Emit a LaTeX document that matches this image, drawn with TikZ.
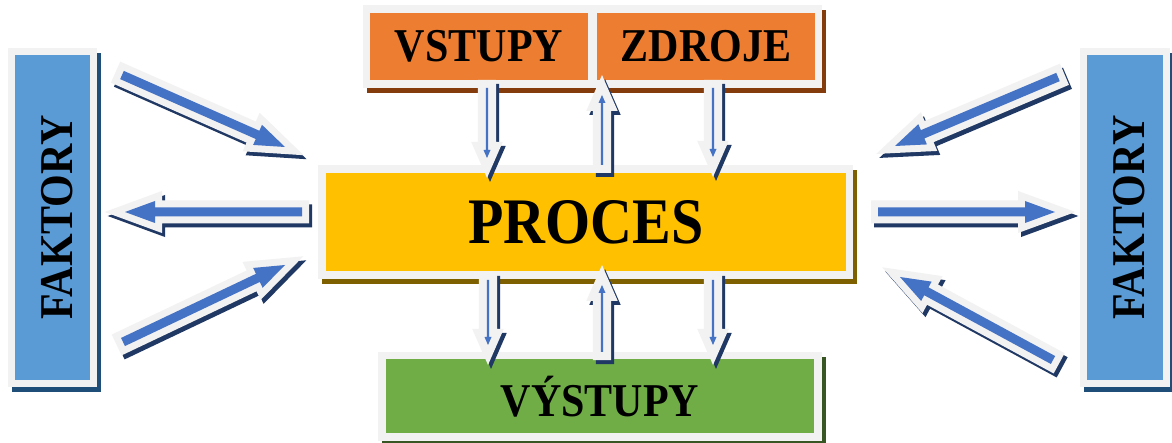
\documentclass[tikz,border=0pt]{standalone}
\usepackage{fontspec}
\setmainfont{Liberation Serif}
\usepackage{graphicx}
\usetikzlibrary{calc}
\definecolor{rim}{HTML}{F2F2F2}
\definecolor{blu}{HTML}{5B9BD5}
\definecolor{bludk}{HTML}{1F4E79}
\definecolor{orn}{HTML}{ED7D31}
\definecolor{orndk}{HTML}{843C0C}
\definecolor{ylw}{HTML}{FFC000}
\definecolor{ylwdk}{HTML}{7F6000}
\definecolor{grn}{HTML}{70AD47}
\definecolor{grndk}{HTML}{375623}
\definecolor{arrblue}{HTML}{4472C4}
\definecolor{arrdark}{HTML}{1F3864}

% slightly taller letters
\newcommand{\tall}[1]{\scalebox{1}[1.12]{#1}}
% [rim width]{from}{to}{shaft half width}{head half width}{head length}
\newcommand{\blockarrow}[6][14pt]{%
  \coordinate (hb) at ($(#3)!#6!(#2)$);
  \path[flow=#1] ($(#2)!#4!90:(#3)$) -- ($(hb)!#4!90:(#3)$) -- ($(hb)!#5!90:(#3)$) -- (#3)
    -- ($(hb)!#5!-90:(#3)$) -- ($(hb)!#4!-90:(#3)$) -- ($(#2)!#4!-90:(#3)$) -- cycle;}

\begin{document}
\begin{tikzpicture}[x=1pt, y=-1pt,
  box/.style={fill=#1, draw=rim, line width=7.5pt, inner sep=0pt,
              font=\bfseries\fontsize{42pt}{44pt}\selectfont,
              preaction={fill=#1dk, draw=#1dk, line width=7.5pt,
                         transform canvas={shift={(4pt,-5pt)}}}},
  flow/.style={draw=rim, fill=rim, line width=#1, line join=miter,
               preaction={draw=arrdark, fill=arrdark, line width=#1, line join=miter,
                          transform canvas={shift={(3pt,-4pt)}}},
               postaction={fill=arrblue, draw=none}}]
  \useasboundingbox[fill=white] (0,0) rectangle (1172,443);

  % boxes
  \node[box=blu, minimum width=82pt, minimum height=332pt] (fl) at (52.5,217.5)
    {\rotatebox{90}{\rule{0pt}{40pt}\tall{FAKTORY}}};
  \node[box=blu, minimum width=83pt, minimum height=332pt] (fr) at (1125,217.5)
    {\rotatebox{90}{\rule{0pt}{40pt}\tall{FAKTORY}}};
  \node[box=orn, minimum width=225pt, minimum height=75pt] (vst) at (479,46.5) {\tall{VSTUPY}};
  \node[box=orn, minimum width=225pt, minimum height=75pt] (zdr) at (706,46.5) {\tall{ZDROJE}};
  \node[box=ylw, minimum width=527.5pt, minimum height=106pt,
        font=\bfseries\fontsize{58pt}{60pt}\selectfont] (proc) at (585.75,222) {\tall{PROCES}};
  \node[box=grn, minimum width=436pt, minimum height=81.5pt] (vyst) at (600,396.25) {\tall{VÝSTUPY}};

  % arrow ends
  \coordinate (l1a) at (122,75);   \coordinate (l1b) at (285,147);
  \coordinate (l2a) at (302,212);  \coordinate (l2b) at (125,212);
  \coordinate (l3a) at (123,342);  \coordinate (l3b) at (285,265);
  \coordinate (r1a) at (1058,77);  \coordinate (r1b) at (895,146);
  \coordinate (r2a) at (878,212);  \coordinate (r2b) at (1055,212);
  \coordinate (r3a) at (1053,360); \coordinate (r3b) at (900,277);
  \coordinate (t1a) at (487,88);   \coordinate (t1b) at (487,158);
  \coordinate (t2a) at (602,165);  \coordinate (t2b) at (602,95);
  \coordinate (t3a) at (713,88);   \coordinate (t3b) at (713,157);
  \coordinate (b1a) at (488,280);  \coordinate (b1b) at (488,345);
  \coordinate (b2a) at (602,352);  \coordinate (b2b) at (602,285);
  \coordinate (b3a) at (713,280);  \coordinate (b3b) at (713,345);

  % side arrows
  \blockarrow{l1a}{l1b}{4.5pt}{11pt}{30pt}
  \blockarrow{l2a}{l2b}{4.5pt}{11pt}{30pt}
  \blockarrow{l3a}{l3b}{4.5pt}{11pt}{30pt}
  \blockarrow{r1a}{r1b}{4.5pt}{11pt}{30pt}
  \blockarrow{r2a}{r2b}{4.5pt}{11pt}{30pt}
  \blockarrow{r3a}{r3b}{4.5pt}{11pt}{30pt}

  % vertical arrows
  \blockarrow[16pt]{t1a}{t1b}{1.2pt}{3.5pt}{8pt}
  \blockarrow[16pt]{t2a}{t2b}{1.2pt}{3.5pt}{8pt}
  \blockarrow[16pt]{t3a}{t3b}{1.2pt}{3.5pt}{8pt}
  \blockarrow[16pt]{b1a}{b1b}{1.2pt}{3.5pt}{8pt}
  \blockarrow[16pt]{b2a}{b2b}{1.2pt}{3.5pt}{8pt}
  \blockarrow[16pt]{b3a}{b3b}{1.2pt}{3.5pt}{8pt}
\end{tikzpicture}
\end{document}
